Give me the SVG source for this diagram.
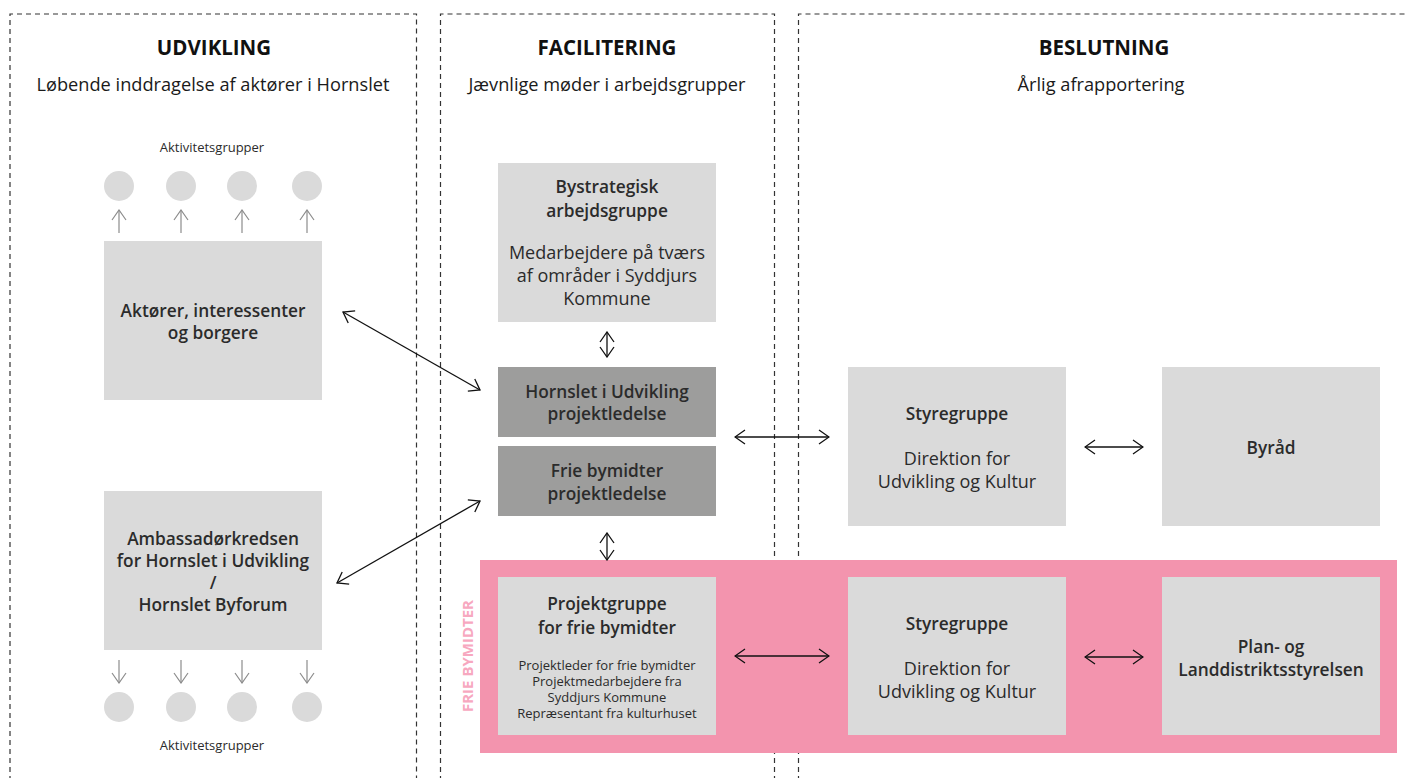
<svg xmlns="http://www.w3.org/2000/svg" width="1405" height="778" viewBox="0 0 1405 778">
<defs>
<style>
text{font-family:"Open Sans","Noto Sans","Liberation Sans",sans-serif;fill:#2b2b2b;text-anchor:middle}
.h{font-size:20.5px;font-weight:700;fill:#111}
.sub{font-size:18.2px;fill:#1a1a1a}
.b{font-size:17.3px;font-weight:600}
.r{font-size:18px}
.s{font-size:13px}
.lt{fill:#dadada}
.dk{fill:#9d9d9c}
.dash{fill:none;stroke:#333;stroke-width:1.2;stroke-dasharray:5 4}
.con{stroke:#111;stroke-width:1.3;fill:none;marker-start:url(#ah);marker-end:url(#ah)}
.g{stroke:#8c8c8c;stroke-width:1.2;fill:none;marker-end:url(#gh)}
</style>
<marker id="ah" viewBox="0 0 12 16" refX="11" refY="8" markerWidth="12" markerHeight="16" markerUnits="userSpaceOnUse" orient="auto-start-reverse">
<path d="M1,1 L11,8 L1,15" fill="none" stroke="#111" stroke-width="1.3"/>
</marker>
<marker id="gh" viewBox="0 0 12 16" refX="11" refY="8" markerWidth="12" markerHeight="16" markerUnits="userSpaceOnUse" orient="auto">
<path d="M1,1 L11,8 L1,15" fill="none" stroke="#8c8c8c" stroke-width="1.2"/>
</marker>
</defs>
<rect width="1405" height="778" fill="#fff"/>

<g id="columns">
<path class="dash" d="M10,790 V14 H416.5 V790"/>
<path class="dash" d="M440.5,790 V14 H774.5 V790"/>
<path class="dash" d="M798.5,790 V14 H1405"/>
<text class="h" x="214" y="55">UDVIKLING</text>
<text class="sub" x="213" y="91">Løbende inddragelse af aktører i Hornslet</text>
<text class="h" x="607" y="55">FACILITERING</text>
<text class="sub" x="607" y="91">Jævnlige møder i arbejdsgrupper</text>
<text class="h" x="1104" y="55">BESLUTNING</text>
<text class="sub" x="1101" y="91">Årlig afrapportering</text>
</g>

<g id="frie-bymidter-band">
<rect x="480" y="560" width="917" height="193" fill="#f394ae"/>
<text x="0" y="0" transform="translate(473,656) rotate(-90)" style="font-size:15px;font-weight:700;fill:#f7a8bf">FRIE BYMIDTER</text>
</g>

<g id="aktivitet-top">
<text class="s" x="212" y="152">Aktivitetsgrupper</text>
<circle class="lt" cx="119" cy="186" r="15"/>
<circle class="lt" cx="181" cy="186" r="15"/>
<circle class="lt" cx="242" cy="186" r="15"/>
<circle class="lt" cx="307" cy="186" r="15"/>
</g>

<g id="aktorer">
<rect class="lt" x="104" y="241" width="218" height="159"/>
<text class="b" x="213" y="317">Aktører, interessenter</text>
<text class="b" x="213" y="339">og borgere</text>
</g>

<g id="ambassador">
<rect class="lt" x="104" y="491" width="218" height="159"/>
<text class="b" x="213" y="545">Ambassadørkredsen</text>
<text class="b" x="213" y="567">for Hornslet i Udvikling</text>
<text class="b" x="213" y="589">/</text>
<text class="b" x="213" y="611">Hornslet Byforum</text>
</g>

<g id="aktivitet-bottom">
<circle class="lt" cx="119" cy="707" r="15"/>
<circle class="lt" cx="181" cy="707" r="15"/>
<circle class="lt" cx="242" cy="707" r="15"/>
<circle class="lt" cx="307" cy="707" r="15"/>
<text class="s" x="212" y="750">Aktivitetsgrupper</text>
</g>

<g id="bystrategisk">
<rect class="lt" x="498" y="163" width="218" height="159"/>
<text class="b" x="607" y="193">Bystrategisk</text>
<text class="b" x="607" y="217">arbejdsgruppe</text>
<text class="r" x="607" y="259">Medarbejdere på tværs</text>
<text class="r" x="607" y="282">af områder i Syddjurs</text>
<text class="r" x="607" y="305">Kommune</text>
</g>

<g id="hornslet-projektledelse">
<rect class="dk" x="498" y="367" width="218" height="70"/>
<text class="b" x="607" y="398">Hornslet i Udvikling</text>
<text class="b" x="607" y="420">projektledelse</text>
</g>

<g id="frie-projektledelse">
<rect class="dk" x="498" y="446" width="218" height="70"/>
<text class="b" x="607" y="477">Frie bymidter</text>
<text class="b" x="607" y="500">projektledelse</text>
</g>

<g id="projektgruppe">
<rect class="lt" x="498" y="577" width="218" height="158"/>
<text class="b" x="607" y="610">Projektgruppe</text>
<text class="b" x="607" y="634">for frie bymidter</text>
<text class="s" x="607" y="670">Projektleder for frie bymidter</text>
<text class="s" x="607" y="686">Projektmedarbejdere fra</text>
<text class="s" x="607" y="702">Syddjurs Kommune</text>
<text class="s" x="607" y="718">Repræsentant fra kulturhuset</text>
</g>

<g id="styregruppe-1">
<rect class="lt" x="848" y="367" width="218" height="159"/>
<text class="b" x="957" y="420">Styregruppe</text>
<text class="r" x="957" y="465">Direktion for</text>
<text class="r" x="957" y="488">Udvikling og Kultur</text>
</g>

<g id="byraad">
<rect class="lt" x="1162" y="367" width="218" height="159"/>
<text class="b" x="1271" y="454">Byråd</text>
</g>

<g id="styregruppe-2">
<rect class="lt" x="848" y="577" width="218" height="158"/>
<text class="b" x="957" y="630">Styregruppe</text>
<text class="r" x="957" y="675">Direktion for</text>
<text class="r" x="957" y="698">Udvikling og Kultur</text>
</g>

<g id="plan-landdistrikt">
<rect class="lt" x="1162" y="577" width="218" height="158"/>
<text class="b" x="1271" y="653">Plan- og</text>
<text class="b" x="1271" y="676">Landdistriktsstyrelsen</text>
</g>

<g id="connectors">
<line class="g" x1="119" y1="233" x2="119" y2="210"/>
<line class="g" x1="181" y1="233" x2="181" y2="210"/>
<line class="g" x1="242" y1="233" x2="242" y2="210"/>
<line class="g" x1="307" y1="233" x2="307" y2="210"/>
<line class="g" x1="119" y1="660" x2="119" y2="683"/>
<line class="g" x1="181" y1="660" x2="181" y2="683"/>
<line class="g" x1="242" y1="660" x2="242" y2="683"/>
<line class="g" x1="307" y1="660" x2="307" y2="683"/>
<line class="con" x1="343" y1="312" x2="480" y2="390"/>
<line class="con" x1="480" y1="501" x2="337" y2="583"/>
<line class="con" x1="607" y1="332" x2="607" y2="357"/>
<line class="con" x1="607" y1="533" x2="607" y2="560"/>
<line class="con" x1="735" y1="437" x2="829" y2="437"/>
<line class="con" x1="1085" y1="447" x2="1143" y2="447"/>
<line class="con" x1="735" y1="656" x2="829" y2="656"/>
<line class="con" x1="1085" y1="657" x2="1143" y2="657"/>
</g>
</svg>
